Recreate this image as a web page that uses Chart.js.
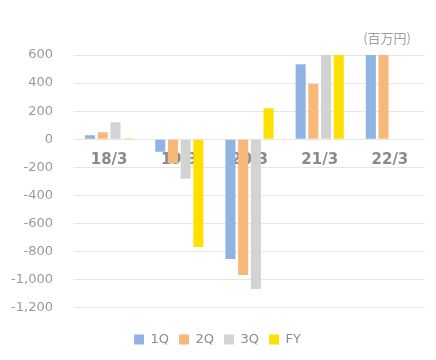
<!DOCTYPE html>
<html>
<head>
<meta charset="utf-8">
<script src="https://cdn.jsdelivr.net/npm/chart.js@4"></script>
<style>
  html, body { margin: 0; padding: 0; background: #fff; }
  #wrap { width: 436px; height: 360px; }
</style>
</head>
<body>
<div id="wrap"><canvas id="chart"></canvas></div>
<script>
/* ── data ─────────────────────────── */
const CATEGORIES = ["18/3", "19/3", "20/3", "21/3", "22/3"];
const Q1 = [28, -88, -853, 535, 650];
const Q2 = [50, -170, -967, 393, 650];
const Q3 = [121, -281, -1067, 650, null];
const FY = [7, -767, 221, 650, null];
const Y_TICKS = { min: -1200, max: 600, step: 200 };
const UNIT_LABEL = "(百万円)";

const COLORS = {
  q1: "#8fb3e2",
  q2: "#f7b87a",
  q3: "#d3d3d3",
  fy: "#ffe000",
};

Chart.defaults.font.family = "'DejaVu Sans', Verdana, sans-serif";
Chart.defaults.animation = false;

function series(label, data, color) {
  return {
    label,
    data,
    backgroundColor: color,
    borderWidth: 0,
    categoryPercentage: 0.724,
    barPercentage: 0.79,
  };
}

// unit label in the top-right corner
const unitLabel = {
  id: "unitLabel",
  afterDraw(chart) {
    const { ctx } = chart;
    ctx.save();
    ctx.font = "13px 'Noto Sans CJK JP', sans-serif";
    ctx.fillStyle = "#a0a0a0";
    ctx.textAlign = "right";
    ctx.textBaseline = "middle";
    ctx.fillText(UNIT_LABEL, 411, 38);
    ctx.restore();
  },
};

new Chart(document.getElementById("chart"), {
  type: "bar",
  data: {
    labels: CATEGORIES,
    datasets: [
      series("1Q", Q1, COLORS.q1),
      series("2Q", Q2, COLORS.q2),
      series("3Q", Q3, COLORS.q3),
      series("FY", FY, COLORS.fy),
    ],
  },
  options: {
    responsive: true,
    maintainAspectRatio: false,
    layout: { padding: { top: 55, left: 10, right: 11, bottom: 4 } },
    plugins: {
      legend: {
        position: "bottom",
        title: { display: true, text: "", font: { size: 1 }, padding: { top: 7, bottom: 7 } },
        labels: {
          boxWidth: 10,
          boxHeight: 10,
          padding: 10,
          color: "#8c8c8c",
          font: { size: 13 },
        },
      },
      tooltip: { enabled: false },
    },
    scales: {
      x: {
        position: { y: 0 },
        z: 1,
        grid: { display: false, drawTicks: false },
        border: { display: false },
        ticks: {
          padding: 12,
          color: "#8a8a8a",
          font: { size: 15, weight: "bold" },
          textStrokeColor: "#ffffff",
          textStrokeWidth: 3,
        },
        afterFit: (s) => {
          s.paddingLeft = 0;
          s.paddingRight = 0;
        },
      },
      y: {
        min: Y_TICKS.min,
        max: Y_TICKS.max,
        ticks: {
          stepSize: Y_TICKS.step,
          padding: 21,
          color: "#9a9a9a",
          font: { size: 13 },
          callback: (v) => v.toLocaleString("en-US"),
        },
        grid: { color: "#e6e6e6", drawTicks: false },
        border: { display: false },
        afterFit: (s) => {
          s.width = 64;
        },
      },
    },
  },
  plugins: [unitLabel],
});
</script>
</body>
</html>
